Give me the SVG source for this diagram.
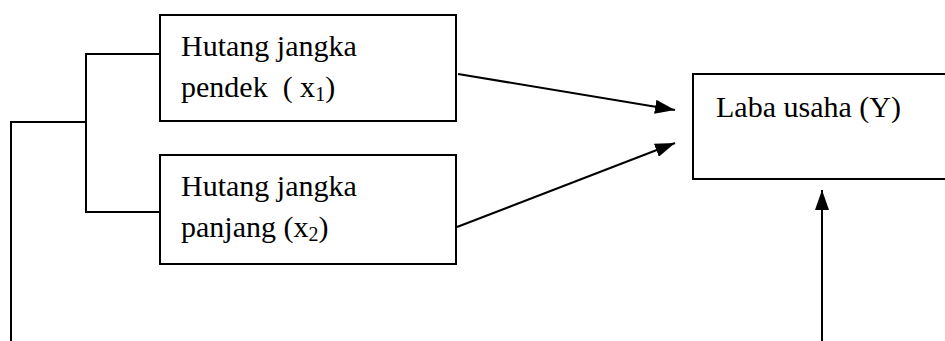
<svg xmlns="http://www.w3.org/2000/svg" width="945" height="341" viewBox="0 0 945 341">
<defs>
<style>
.box{fill:#fff;stroke:#000;stroke-width:2}
.ln{fill:none;stroke:#000;stroke-width:2}
.t{font-family:"Liberation Serif","Times New Roman",serif;font-size:30px;fill:#000;white-space:pre}
.sub{font-size:20px}
</style>
<marker id="ah" viewBox="0 0 10 10" refX="10" refY="5" markerWidth="10" markerHeight="10" markerUnits="userSpaceOnUse" orient="auto">
<path d="M0,0 L10,5 L0,10 z" fill="#000"/>
</marker>
<marker id="ah2" viewBox="0 0 20 14" refX="20" refY="7" markerWidth="20" markerHeight="14" markerUnits="userSpaceOnUse" orient="auto">
<path d="M0,0 L20,7 L0,14 z" fill="#000"/>
</marker>
</defs>
<rect width="945" height="341" fill="#fff"/>
<g id="connectors">
<polyline class="ln" points="160,54 86,54 86,212 160,212"/>
<polyline class="ln" points="86,122 11,122 11,341"/>
<line class="ln" x1="458" y1="74" x2="675" y2="110" marker-end="url(#ah2)"/>
<line class="ln" x1="457" y1="227" x2="675" y2="143" marker-end="url(#ah2)"/>
<line class="ln" x1="822" y1="341" x2="822" y2="190" marker-end="url(#ah2)"/>
</g>
<g id="node-x1">
<rect class="box" x="160" y="15" width="296" height="106"/>
<text class="t" x="181" y="56">Hutang jangka</text>
<text class="t" x="181" y="97">pendek  ( x<tspan class="sub" dy="4">1</tspan><tspan dy="-4">)</tspan></text>
</g>
<g id="node-x2">
<rect class="box" x="160" y="155" width="296" height="109"/>
<text class="t" x="181" y="196">Hutang jangka</text>
<text class="t" x="181" y="237">panjang (x<tspan class="sub" dy="4">2</tspan><tspan dy="-4">)</tspan></text>
</g>
<g id="node-y">
<rect class="box" x="693" y="74" width="260" height="105"/>
<text class="t" x="716" y="117">Laba usaha (Y)</text>
</g>
</svg>
